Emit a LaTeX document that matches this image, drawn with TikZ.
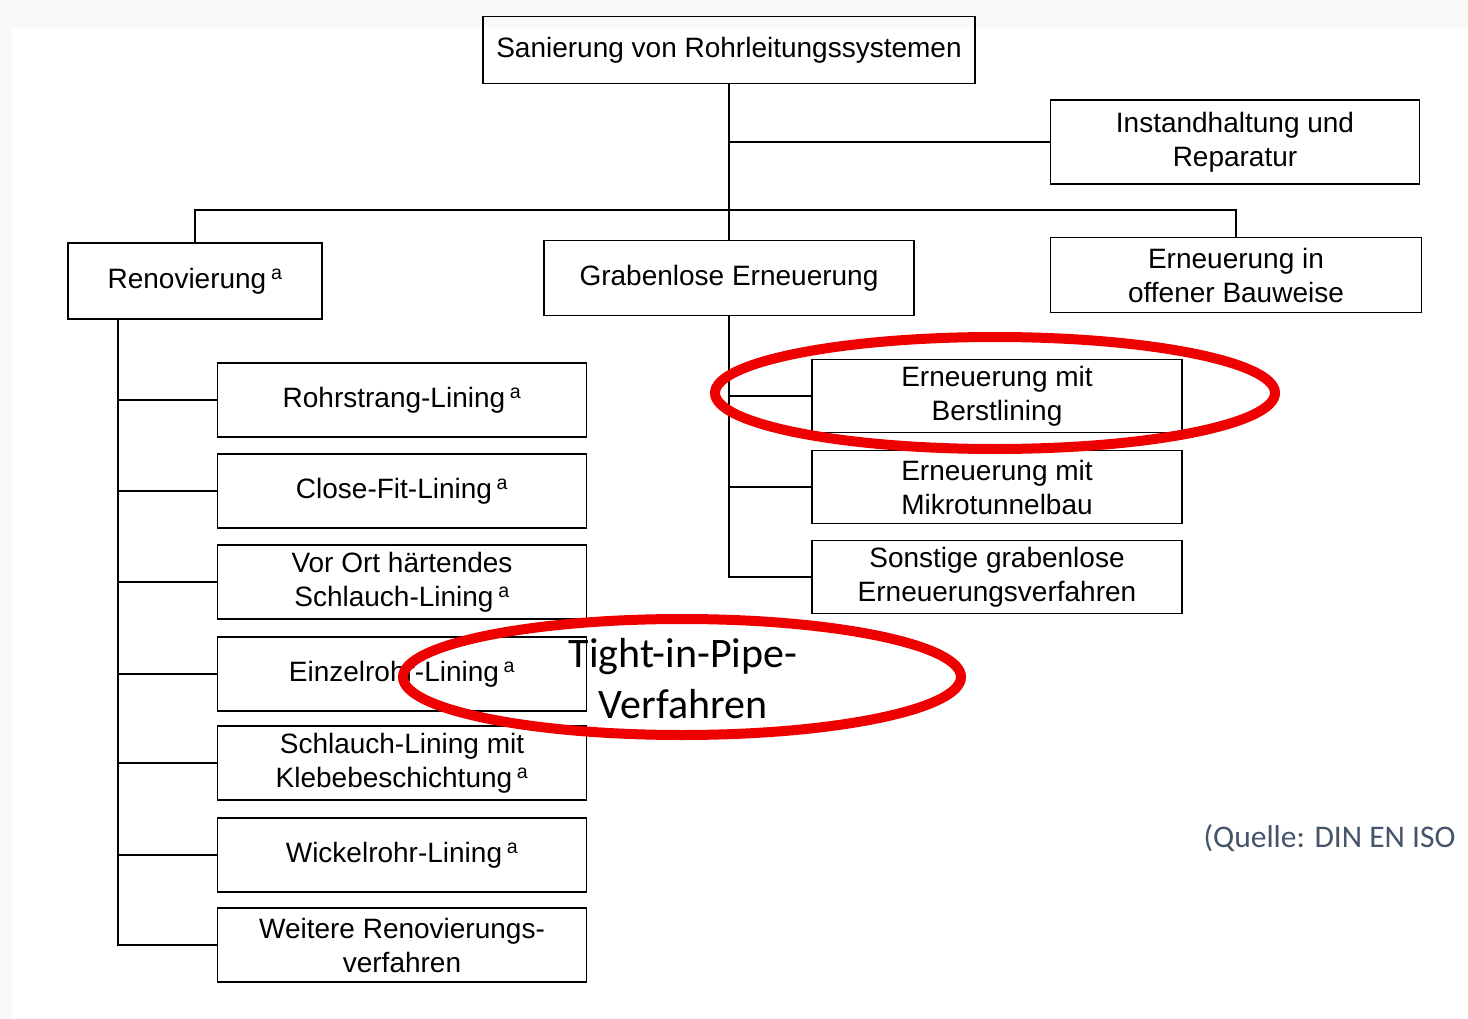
\documentclass[tikz,border=0pt]{standalone}
\usepackage{fontspec}
\setmainfont{Liberation Sans}
\newfontfamily\notizfont{Carlito}
\usetikzlibrary{positioning}
\definecolor{markrot}{HTML}{EE0000}
\definecolor{quellgrau}{HTML}{44546A}
\tikzset{
  kasten/.style={draw, line width=1.6pt, align=center, inner sep=0pt,
    font=\fontsize{28}{34}\selectfont},
  linie/.style={line width=1.6pt},
  markierung/.style={draw=markrot, line width=10pt}
}
\newcommand{\hochA}{\,\textsuperscript{a}}
\begin{document}
\begin{tikzpicture}[x=1pt, y=-1pt]
\useasboundingbox (0,0) rectangle (1468,1019);
% Papier
\fill[gray!5] (0,0) rectangle (1468,1019);
\fill[white] (12,28) rectangle (1468,1019);

% Oberste Ebene
\node[kasten, minimum width=492pt, minimum height=67pt] (san) at (729,50) {Sanierung von Rohrleitungssystemen};
\node[kasten, minimum width=369pt, minimum height=84pt] (inst) at (1235,142) {Instandhaltung und\\Reparatur};

% Zweite Ebene
\node[kasten, minimum width=254pt, minimum height=76pt] (ren) at (195,281) {Renovierung\hochA};
\node[kasten, minimum width=370pt, minimum height=75pt] (grab) at (729,278) {Grabenlose Erneuerung};
\node[kasten, minimum width=371pt, minimum height=75pt] (offen) at (1236,275) {Erneuerung in\\offener Bauweise};

% Renovierungsverfahren
\foreach \n/\y/\txt in {r1/400/Rohrstrang-Lining\hochA,
                        r2/491/Close-Fit-Lining\hochA,
                        r3/582/Vor Ort härtendes\\Schlauch-Lining\hochA,
                        r4/674/Einzelrohr-Lining\hochA,
                        r5/763/Schlauch-Lining mit\\Klebebeschichtung\hochA,
                        r6/855/Wickelrohr-Lining\hochA,
                        r7/945/Weitere Renovierungs-\\verfahren} {
    \node[kasten, minimum width=369pt, minimum height=74pt] (\n) at (402,\y) {\txt};
}

% Grabenlose Erneuerungsverfahren
\foreach \n/\y/\txt in {g1/396/Erneuerung mit\\Berstlining,
                        g2/487/Erneuerung mit\\Mikrotunnelbau,
                        g3/577/Sonstige grabenlose\\Erneuerungsverfahren} {
    \node[kasten, minimum width=370pt, minimum height=73pt] (\n) at (997,\y) {\txt};
}

% Verbindungen
\coordinate (quer) at (0,210);
\draw[linie] (san.south) -- (grab.north);
\draw[linie] (san.south |- inst.west) -- (inst.west);
\draw[linie] (ren.north) -- (ren.north |- quer) -| (offen.north);
\coordinate (lstamm) at (118,320);
\draw[linie] (lstamm) |- (r7.west);
\foreach \n in {r1,r2,r3,r4,r5,r6} {
    \draw[linie] (lstamm |- \n.west) -- (\n.west);
}
\draw[linie] (grab.south) |- (g3.west);
\foreach \n in {g1,g2} {
    \draw[linie] (grab.south |- \n.west) -- (\n.west);
}

% Markierungen
\draw[markierung] (995,393) ellipse [x radius=280pt, y radius=56pt];
\draw[markierung] (682,677) ellipse [x radius=279pt, y radius=58pt];
\node[font=\notizfont\fontsize{42}{51}\selectfont, align=center] (tip) at (683,679) {Tight-in-Pipe-\\Verfahren};

% Quelle
\node[anchor=west, text=quellgrau, font=\notizfont\fontsize{31.5}{36}\selectfont] (quelle) at (1200,838) {(Quelle: DIN EN ISO};
\end{tikzpicture}
\end{document}
